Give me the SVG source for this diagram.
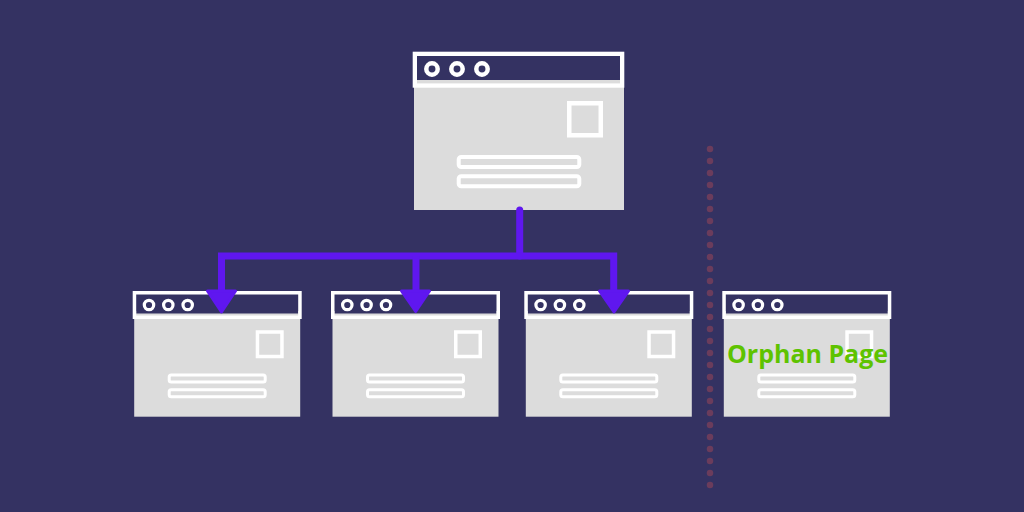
<svg xmlns="http://www.w3.org/2000/svg" width="1024" height="512" viewBox="0 0 1024 512">
  <defs>
    <style>
      .body { fill: #dcdcdc; }
      .bar { fill: #343262; }
      .frame { fill: none; stroke: #ffffff; }
      .dot { fill: #343262; stroke: #ffffff; }
      .sq { fill: none; stroke: #ffffff; }
      .ln { fill: none; stroke: #ffffff; }
      .conn { fill: none; stroke: #5f17ef; stroke-width: 7; }
      .head { fill: #5f17ef; stroke: #5f17ef; stroke-width: 3; stroke-linejoin: round; }
      .label { font-family: "Open Sans", "Liberation Sans", sans-serif; font-weight: 700; font-size: 25px; fill: #5ec300; }
    </style>
    <g id="smallWin">
      <rect class="body" x="1.5" y="20" width="166" height="105.7"/>
      <rect class="bar" x="3.5" y="3.5" width="162" height="19"/>
      <rect class="frame" x="1.75" y="1.75" width="165.5" height="24.5" stroke-width="3.5"/>
      <circle class="dot" cx="16.3" cy="14" r="4.7" stroke-width="3.2"/>
      <circle class="dot" cx="35.6" cy="14" r="4.7" stroke-width="3.2"/>
      <circle class="dot" cx="55" cy="14" r="4.7" stroke-width="3.2"/>
      <rect class="sq" x="124.75" y="41" width="24.5" height="24.5" stroke-width="3.5"/>
      <rect class="ln" x="36.5" y="84" width="96" height="7" rx="2" stroke-width="3"/>
      <rect class="ln" x="36.5" y="98.8" width="96" height="7" rx="2" stroke-width="3"/>
    </g>
  </defs>
  <rect x="0" y="0" width="1024" height="512" fill="#343262"/>

  <g id="separator">
    <line x1="710" y1="149" x2="710" y2="486" stroke="#6b3c5c" stroke-width="6.5" stroke-linecap="round" stroke-dasharray="0 12"/>
  </g>

  <g id="home-page">
    <rect class="body" x="414" y="80" width="210" height="130"/>
    <rect class="bar" x="416.7" y="56" width="205" height="23"/>
    <rect class="frame" x="414.85" y="53.85" width="207.3" height="31.7" stroke-width="4.3"/>
    <circle class="dot" cx="432" cy="69" r="5.7" stroke-width="4.5"/>
    <circle class="dot" cx="457" cy="69" r="5.7" stroke-width="4.5"/>
    <circle class="dot" cx="482" cy="69" r="5.7" stroke-width="4.5"/>
    <rect class="sq" x="569.25" y="103.25" width="31.5" height="32" stroke-width="4.5"/>
    <rect class="ln" x="458.7" y="157" width="120.6" height="10" rx="2.5" stroke-width="4"/>
    <rect class="ln" x="458.7" y="176.3" width="120.6" height="10" rx="2.5" stroke-width="4"/>
  </g>

  <g id="page-1"><use href="#smallWin" x="132.7" y="291"/></g>
  <g id="page-2"><use href="#smallWin" x="331" y="291"/></g>
  <g id="page-3"><use href="#smallWin" x="524.3" y="291"/></g>
  <g id="orphan-page">
    <use href="#smallWin" x="722.3" y="291"/>
    <text class="label" x="727" y="363" textLength="161" lengthAdjust="spacingAndGlyphs">Orphan Page</text>
  </g>

  <g id="connectors">
    <path class="conn" d="M519.7 210 V256" stroke-linecap="round"/>
    <path class="conn" d="M221.5 292 V256 H613.7 V292"/>
    <path class="conn" d="M416 256 V292"/>
    <polygon class="head" points="207.5,291 235.5,291 221.5,312"/>
    <polygon class="head" points="401.5,291 429.5,291 415.7,311.5"/>
    <polygon class="head" points="599.5,291 628.5,291 614,312"/>
  </g>
</svg>
